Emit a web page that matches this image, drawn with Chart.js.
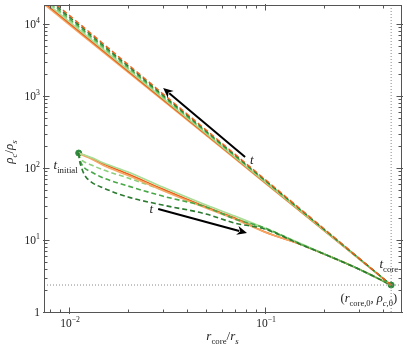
<!DOCTYPE html>
<html><head><meta charset="utf-8">
<script src="https://cdn.jsdelivr.net/npm/chart.js@4"></script>
<style>html,body{margin:0;background:#fff}#wrap{width:407px;height:349px;position:relative}</style>
</head><body><div id="wrap"><canvas id="c"></canvas></div>
<script>
/* ===== data ===== */
// lower branch: t_initial -> t_core
const lowX        =[0.0112,0.0113,0.0116,0.012,0.013,0.015,0.02,0.03,0.05,0.07,0.1,0.15,0.2,0.3,0.44];
const lowOrange   =[161.6,159.5,155,149.6,136.4,113.6,82.5,51.1,28.7,20.2,12.9,8.8,6.39,3.96,2.37];
const lowLtOrange =[161.6,158.5,153,146.8,133.4,108.3,78.7,48.7,27.8,19.6,12.8,8.8,6.39,3.96,2.37];
const lowLtGreen  =[161.6,160.0,156.5,151.6,139.9,117.3,88.0,54.4,30.6,21.5,14.6,9.1,6.45,3.96,2.37];
const lowLgDash   =[161.6,146.8,129.2,121.2,110.1,93.8,72.6,49.5,28.7,20.2,14.2,8.8,6.39,3.96,2.37];
const lowGrDash   =[161.6,137.7,113.6,100,88.0,72.6,56.2,40.8,28.7,19.6,14.7,8.9,6.39,3.96,2.37];
const lowDkDash   =[161.6,129.2,100,79.9,63.9,52.7,39.6,30.6,23.0,17.2,14.2,8.8,6.39,3.96,2.37];
// upper branch: t_core -> back up
const upX         =[0.0075,0.03,0.1,0.44];
const upLtOrange  =[18590,877,61.9,2.37];
const upOrange    =[19610,908,63.1,2.37];
const upLtGreen   =[20650,941,64.3,2.37];
const upLgDash    =[21790,975,65.6,2.37];
const upGrDash    =[22960,1010,66.8,2.37];
const upDkDash    =[24280,1045,68.1,2.37];
const upOrDash    =[25700,1087,69.5,2.37];

const r0=0.44, rho0=2.37;           // (r_core,0 , rho_c,0)
const tInit=[0.0112,161.6];
const xMin=0.00745,xMax=0.494,yMin=1,yMax=18400;
const xMajor=[0.01,0.1], xMajorExp=['−2','−1'];
const yMajor=[1,10,100,1000,10000], yMajorExp=[null,'1','2','3','4'];
const arrowUp=[[0.0791,142],[0.0302,1291]];
const arrowDown=[[0.0285,27.0],[0.0809,12.5]];

/* ===== helpers ===== */
const F='"Liberation Serif","DejaVu Serif",serif';
const C={orange:'#ec5f1a',ltOrange:'#f6a764',ltGreen:'#a9dc94',lgDash:'#8dd07c',grDash:'#46a846',dkDash:'#2a7a30',pt:'#2e8b3e'};
const xy=(xs,ys)=>xs.map((x,i)=>({x,y:ys[i]}));
const mk=(xs,ys,col,dash,w=1.6)=>({data:xy(xs,ys),showLine:true,borderColor:col,borderWidth:w,
  borderDash:dash?[5,3]:[],pointRadius:0,fill:false,cubicInterpolationMode:'monotone'});

function fontFor(p,size){const sz=p.s?size*0.68:size;return (p.i?'italic ':'')+sz.toFixed(1)+'px '+F;}
function rich(ctx,parts,x,y,align,size){
  ctx.save();ctx.textBaseline='alphabetic';ctx.textAlign='left';ctx.fillStyle='#222';
  let w=0;parts.forEach(p=>{ctx.font=fontFor(p,size);p.w=ctx.measureText(p.t).width;w+=p.w;});
  let cx=align==='right'?x-w:align==='center'?x-w/2:x;
  parts.forEach(p=>{ctx.font=fontFor(p,size);
    const dy=p.s==='b'?size*0.28:p.s==='p'?-size*0.42:0;ctx.fillText(p.t,cx,y+dy);cx+=p.w;});
  ctx.restore();
}
function arrow(ctx,a,b){
  const dx=b[0]-a[0],dy=b[1]-a[1],L=Math.hypot(dx,dy),ux=dx/L,uy=dy/L,h=10,hw=4.5;
  ctx.save();ctx.strokeStyle='#000';ctx.fillStyle='#000';ctx.lineWidth=2;
  ctx.beginPath();ctx.moveTo(a[0],a[1]);ctx.lineTo(b[0]-ux*h*0.8,b[1]-uy*h*0.8);ctx.stroke();
  ctx.beginPath();ctx.moveTo(b[0],b[1]);
  ctx.lineTo(b[0]-ux*h-uy*hw,b[1]-uy*h+ux*hw);ctx.lineTo(b[0]-ux*h*0.7,b[1]-uy*h*0.7);
  ctx.lineTo(b[0]-ux*h+uy*hw,b[1]-uy*h-ux*hw);ctx.closePath();ctx.fill();ctx.restore();
}

/* ===== axes / labels plugin ===== */
const frame={id:'frame',afterDraw(c){
  const {ctx,chartArea:{left,right,top,bottom},scales:{x,y}}=c;
  const P=(vx,vy)=>[x.getPixelForValue(vx),y.getPixelForValue(vy)];
  ctx.save();ctx.strokeStyle='#555';ctx.lineWidth=1;
  ctx.strokeRect(Math.round(left)+.5,Math.round(top)+.5,Math.round(right-left),Math.round(bottom-top));
  const L=Math.round(left)+.5,R=Math.round(right)+.5,T=Math.round(top)+.5,B=Math.round(bottom)+.5;
  ctx.beginPath();
  // x ticks
  for(let d=-3;d<=0;d++)for(let m=1;m<=9;m++){const v=m*10**d;if(v<xMin||v>xMax)continue;
    const px=Math.round(x.getPixelForValue(v))+.5,len=m===1?5:3;
    ctx.moveTo(px,B+(m===1?1.5:0));ctx.lineTo(px,B-len);ctx.moveTo(px,T-(m===1?1.5:0));ctx.lineTo(px,T+len);}
  // y ticks
  for(let d=0;d<=4;d++)for(let m=1;m<=9;m++){const v=m*10**d;if(v<yMin||v>yMax)continue;
    const py=Math.round(y.getPixelForValue(v))+.5,len=m===1?5:3;
    ctx.moveTo(L-(m===1?1.5:0),py);ctx.lineTo(L+len,py);ctx.moveTo(R+(m===1?1.5:0),py);ctx.lineTo(R-len,py);}
  ctx.stroke();ctx.restore();
  // tick labels
  xMajor.forEach((v,i)=>rich(ctx,[{t:'10'},{t:xMajorExp[i],s:'p'}],x.getPixelForValue(v)+1,B+14,'center',11.5));
  yMajor.forEach((v,i)=>{const py=y.getPixelForValue(v)+4;
    rich(ctx,yMajorExp[i]?[{t:'10'},{t:yMajorExp[i],s:'p'}]:[{t:'1'}],left-4,py,'right',11.5);});
  // axis titles
  rich(ctx,[{t:'r',i:1},{t:'core',s:'b'},{t:'/'},{t:'r',i:1},{t:'s',s:'b',i:1}],(left+right)/2,bottom+28,'center',13);
  ctx.save();ctx.translate(13,152);ctx.rotate(-Math.PI/2);
  rich(ctx,[{t:'ρ',i:1},{t:'c',s:'b',i:1},{t:'/'},{t:'ρ',i:1},{t:'s',s:'b',i:1}],0,0,'center',13);ctx.restore();
  // arrows and annotations
  const au=arrowUp.map(p=>P(p[0],p[1])),ad=arrowDown.map(p=>P(p[0],p[1]));
  arrow(ctx,au[0],au[1]);arrow(ctx,ad[0],ad[1]);
  rich(ctx,[{t:'t',i:1}],au[0][0]+5,au[0][1]+7,'left',13);
  rich(ctx,[{t:'t',i:1}],ad[0][0]-5,ad[0][1]+4,'right',13);
  const pi=P(tInit[0],tInit[1]),pe=P(r0,rho0);
  rich(ctx,[{t:'t',i:1},{t:'initial',s:'b'}],pi[0]-1,pi[1]+16,'right',13);
  rich(ctx,[{t:'t',i:1},{t:'core',s:'b'}],pe[0]+7,pe[1]-17,'right',13);
  rich(ctx,[{t:'('},{t:'r',i:1},{t:'core,0',s:'b'},{t:', '},{t:'ρ',i:1},{t:'c',s:'b',i:1},{t:',0',s:'b'},{t:')'}],
       pe[0]+6,pe[1]+17,'right',12.5);
}};

/* ===== chart ===== */
new Chart(document.getElementById('c'),{
  type:'scatter',
  data:{datasets:[
    {data:[{x:r0,y:yMin},{x:r0,y:yMax}],showLine:true,borderColor:'#888',borderWidth:1,borderDash:[1,2],pointRadius:0},
    {data:[{x:xMin,y:rho0},{x:xMax,y:rho0}],showLine:true,borderColor:'#888',borderWidth:1,borderDash:[1,2],pointRadius:0},
    mk(upX,upOrDash,C.orange,true,1.4),
    mk(upX,upDkDash,C.dkDash,true,1.4),
    mk(upX,upGrDash,C.grDash,true,1.4),
    mk(upX,upLgDash,C.lgDash,true,1.4),
    mk(upX,upLtGreen,C.ltGreen,false,1.5),
    mk(upX,upOrange,C.orange,false,1.5),
    mk(upX,upLtOrange,C.ltOrange,false,1.6),
    mk(lowX,lowDkDash,C.dkDash,true),
    mk(lowX,lowGrDash,C.grDash,true),
    mk(lowX,lowLtGreen,C.ltGreen,false),
    mk(lowX,lowLtOrange,C.ltOrange,false),
    mk(lowX,lowOrange,C.orange,false),
    mk(lowX,lowLgDash,C.lgDash,true),
    {data:[{x:tInit[0],y:tInit[1]},{x:r0,y:rho0}],showLine:false,pointRadius:3,
     pointBackgroundColor:C.pt,pointBorderColor:C.pt,clip:false}
  ]},
  options:{
    responsive:true,maintainAspectRatio:false,animation:false,
    layout:{padding:{left:44,top:5,right:6,bottom:37}},
    plugins:{legend:{display:false},tooltip:{enabled:false}},
    scales:{
      x:{type:'logarithmic',min:xMin,max:xMax,display:false},
      y:{type:'logarithmic',min:yMin,max:yMax,display:false}
    }
  },
  plugins:[frame]
});
</script></body></html>
